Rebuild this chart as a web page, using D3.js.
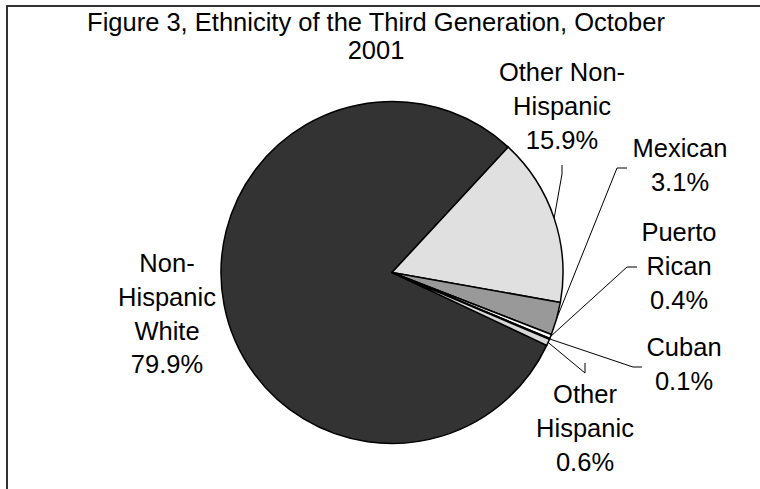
<!DOCTYPE html>
<html>
<head>
<meta charset="utf-8">
<script src="https://cdn.jsdelivr.net/npm/d3@7"></script>
<style>
  body { margin: 0; background: #fff; }
  svg { display: block; font-family: "Liberation Sans", Arial, sans-serif; }
</style>
</head>
<body>
<svg id="chart" width="760" height="489"></svg>
<script>
// data, clockwise order as plotted
const categories = ["Non-Hispanic White", "Other Non-Hispanic", "Mexican", "Puerto Rican", "Cuban", "Other Hispanic"];
const shares = [79.9, 15.9, 3.1, 0.4, 0.1, 0.6];
const labelLines = [
  ["Non-", "Hispanic", "White", "79.9%"],
  ["Other Non-", "Hispanic", "15.9%"],
  ["Mexican", "3.1%"],
  ["Puerto", "Rican", "0.4%"],
  ["Cuban", "0.1%"],
  ["Other", "Hispanic", "0.6%"]
];
const titleLines = ["Figure 3, Ethnicity of the Third Generation, October", "2001"];

const svg = d3.select("#chart");

// frame
svg.append("path")
  .attr("d", "M7,489 L7,6 L760,6")
  .attr("fill", "none")
  .attr("stroke", "#333")
  .attr("stroke-width", 2);

// texture for the light slice (checker of two greys)
const defs = svg.append("defs");
const pat = defs.append("pattern")
  .attr("id", "dots")
  .attr("width", 2).attr("height", 2)
  .attr("patternUnits", "userSpaceOnUse");
pat.append("rect").attr("width", 2).attr("height", 2).attr("fill", "#eeeeee");
pat.append("rect").attr("width", 1).attr("height", 1).attr("fill", "#d2d2d2");
pat.append("rect").attr("x", 1).attr("y", 1).attr("width", 1).attr("height", 1).attr("fill", "#d2d2d2");

const fills = ["#333333", "url(#dots)", "#999999", "#ffffff", "#ffffff", "#d6d6d6"];

const cx = 392, cy = 272.5, r = 171;
const start = 115.2 * Math.PI / 180;

const pie = d3.pie().sort(null).value(d => d)
  .startAngle(start).endAngle(start + 2 * Math.PI);
const arcs = pie(shares);
const arc = d3.arc().innerRadius(0).outerRadius(r);
const edge = d3.arc().innerRadius(r).outerRadius(r);

const g = svg.append("g").attr("transform", `translate(${cx},${cy})`);
g.selectAll("path.slice")
  .data(arcs)
  .join("path")
  .attr("class", "slice")
  .attr("d", arc)
  .attr("fill", (d, i) => fills[i])
  .attr("stroke", "#000")
  .attr("stroke-width", 1.5)
  .attr("stroke-linejoin", "round");

// title
const fs = 25.5;
svg.append("text")
  .attr("text-anchor", "middle")
  .attr("font-size", fs)
  .selectAll("tspan")
  .data(titleLines)
  .join("tspan")
  .attr("x", 376)
  .attr("y", (d, i) => 31 + i * 28)
  .text(d => d);

// label layout: centre x, first baseline, leader stub (label end -> bend)
const labelPos = [
  { x: 167, y: 272, stub: null },
  { x: 562, y: 81, stub: [[562, 165], [562, 174]] },
  { x: 680, y: 157, stub: [[627, 168], [617, 168]] },
  { x: 679, y: 241, stub: [[637, 267], [627, 267]] },
  { x: 684, y: 356, stub: [[642, 367], [633, 367]] },
  { x: 585, y: 403, stub: [[585, 363], [585, 373]] }
];
const lineH = 33.8;

labelPos.forEach((p, i) => {
  svg.append("text")
    .attr("text-anchor", "middle")
    .attr("font-size", fs)
    .attr("fill", "#000")
    .selectAll("tspan")
    .data(labelLines[i])
    .join("tspan")
    .attr("x", p.x)
    .attr("y", (d, k) => p.y + k * lineH)
    .text(d => d);

  if (p.stub) {
    const c = edge.centroid(arcs[i]);
    const pts = [p.stub[0], p.stub[1], [cx + c[0], cy + c[1]]];
    svg.append("path")
      .attr("d", d3.line()(pts))
      .attr("fill", "none")
      .attr("stroke", "#000")
      .attr("stroke-width", 1);
  }
});
</script>
</body>
</html>
